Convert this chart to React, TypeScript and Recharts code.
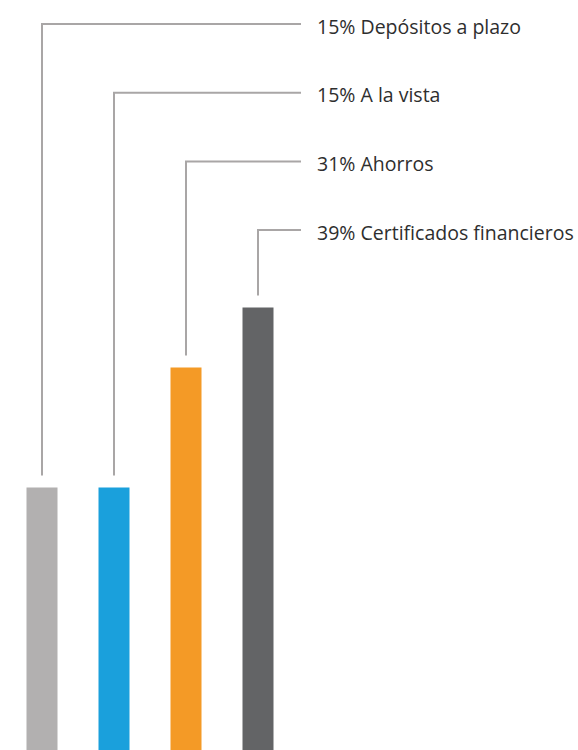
import { BarChart, Bar, XAxis, YAxis, Cell, LabelList } from 'recharts';

const categories = ['Depósitos a plazo', 'A la vista', 'Ahorros', 'Certificados financieros'];
const shares = [15, 15, 31, 39];
const colors = ['#b2b0b0', '#1aa0dc', '#f49a26', '#636466'];

// the bars in the source start well below their zero, so the axis begins under it
const AXIS_MIN = -20;
const AXIS_MAX = 80;

const LABEL_TOP = 24;
const LABEL_STEP = 68.7;
const LINE_END = 301;
const TEXT_X = 317;
const LINE_GAP = 12;

const data = categories.map((name, i) => ({ name, share: shares[i] }));

function Leader(props: any) {
  const { x, y, width, index } = props;
  const cx = x + width / 2;
  const ly = LABEL_TOP + index * LABEL_STEP;
  return (
    <g>
      <polyline
        points={`${cx},${y - LINE_GAP} ${cx},${ly} ${LINE_END},${ly}`}
        fill="none"
        stroke="#a9a6a6"
        strokeWidth={2}
      />
      <text
        x={TEXT_X}
        y={ly + 9.5}
        fill="#2e2e2e"
        fontSize={19.5}
        fontFamily="'Open Sans', sans-serif"
      >
        {`${shares[index]}% ${categories[index]}`}
      </text>
    </g>
  );
}

export default function App() {
  return (
    <div style={{ position: 'absolute', top: 0, left: 0, width: 578, height: 750, background: '#fff' }}>
      <BarChart
        width={578}
        height={750}
        data={data}
        margin={{ top: 0, right: 284.5, bottom: 0, left: 5.5 }}
        barSize={31}
      >
        <XAxis dataKey="name" hide />
        <YAxis type="number" domain={[AXIS_MIN, AXIS_MAX]} hide allowDataOverflow />
        <Bar
          dataKey={(d: any) => [AXIS_MIN, d.share]}
          isAnimationActive={false}
        >
          {data.map((d, i) => (
            <Cell key={d.name} fill={colors[i]} />
          ))}
          <LabelList content={<Leader />} />
        </Bar>
      </BarChart>
    </div>
  );
}
